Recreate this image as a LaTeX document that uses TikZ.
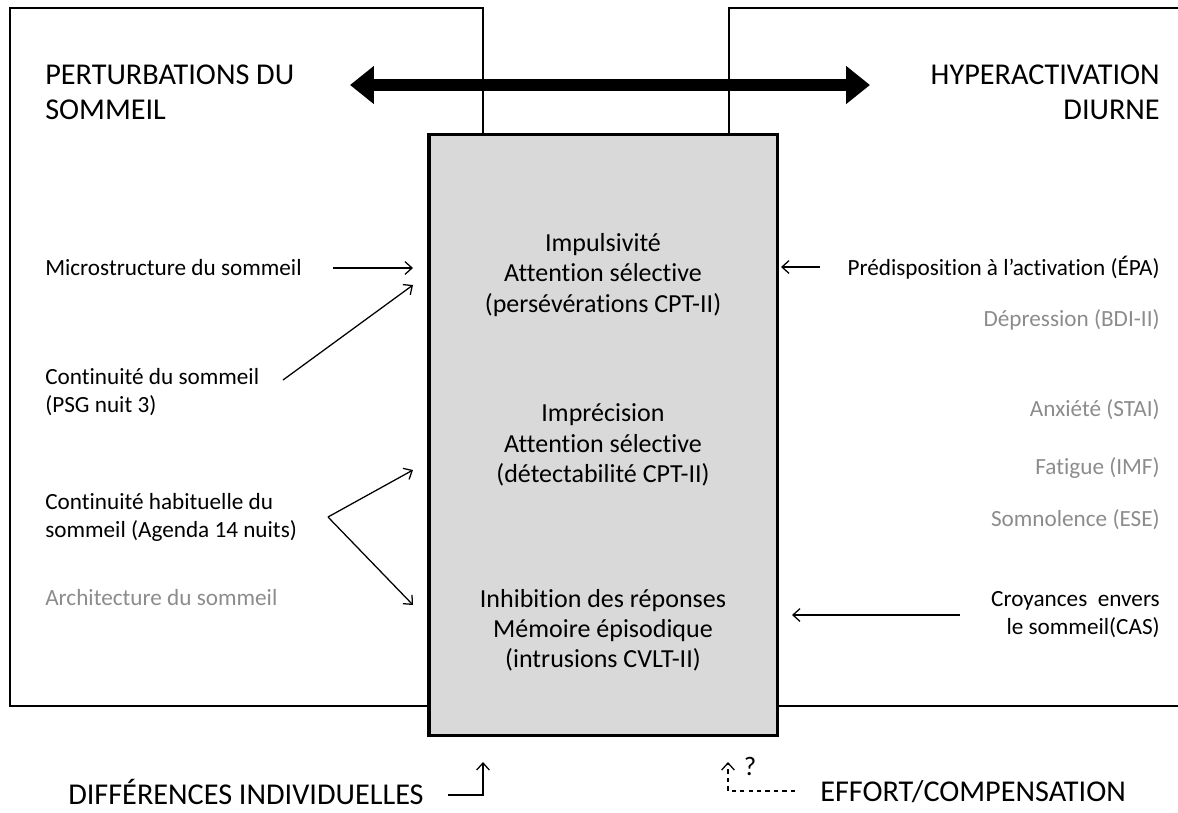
\documentclass[tikz,border=0pt]{standalone}
\usepackage{fontspec}
\setmainfont[Ligatures={NoCommon,NoContextual}]{Carlito}
\usetikzlibrary{arrows.meta}
\definecolor{boxgray}{RGB}{217,217,217}
\definecolor{txtgray}{RGB}{140,140,140}
\begin{document}
\begin{tikzpicture}[x=0.025cm,y=-0.025cm]
\tikzstyle{frame}=[line width=1.4pt]
\tikzstyle{core}=[draw, line width=2.2pt, fill=boxgray, inner sep=0pt]
\tikzstyle{head}=[font=\fontsize{21.5}{25}\selectfont, inner sep=0pt]
\tikzstyle{item}=[font=\fontsize{16.5}{20}\selectfont, inner sep=0pt]
\tikzstyle{faded}=[item, text=txtgray]
\tikzstyle{inner}=[font=\fontsize{18.5}{21.5}\selectfont, inner sep=0pt, align=center]
\tikzstyle{link}=[line width=0.9pt, -{Straight Barb[length=5pt,width=9pt]}]

\useasboundingbox (0,0) rectangle (1178,812);

% frames
\draw[frame] (10,8) rectangle (483,706);
\draw[frame] (1180,8) -- (729,8) -- (729,706) -- (1180,706);

\node[core, minimum width=8.7cm, minimum height=15cm] (center) at (603,435) {};

\node[head, anchor=west, align=left] (perturb) at (45,92) {PERTURBATIONS DU\\SOMMEIL};
\node[head, anchor=east, align=right] (hyper) at (1160,92) {HYPERACTIVATION\\DIURNE};

\coordinate (la) at (350,85);
\coordinate (ra) at (870,85);
\draw[line width=8.5pt, {Triangle[length=17pt,width=26pt]}-{Triangle[length=17pt,width=26pt]}] (la) -- (ra);

% inside the grey box
\node[inner] (impul) at (603,275) {Impulsivité\\Attention sélective\\(persévérations CPT-II)};
\node[inner] (impre) at (603,445) {Imprécision\\Attention sélective\\(détectabilité CPT-II)};
\node[inner] (inhib) at (603,630) {Inhibition des réponses\\Mémoire épisodique\\(intrusions CVLT-II)};

% left side
\node[item, anchor=west] (micro) at (45,268) {Microstructure du sommeil};
\node[item, anchor=west, align=left] (contin) at (45,392) {Continuité du sommeil\\(PSG nuit 3)};
\node[item, anchor=west, align=left] (habit) at (45,517) {Continuité habituelle du\\sommeil (Agenda 14 nuits)};
\node[faded, anchor=west] (archi) at (45,598) {Architecture du sommeil};

\coordinate (m1) at (333,268);
\coordinate (m2) at (413,268);
\coordinate (c1) at (283,380);
\coordinate (c2) at (413,285);
\coordinate (h0) at (328,517);
\coordinate (h1) at (413,470);
\coordinate (h2) at (413,605);

\draw[link] (m1) -- (m2);
\draw[link] (c1) -- (c2);
\draw[link] (h0) -- (h1);
\draw[link] (h0) -- (h2);

% right side
\node[item, anchor=east] (predisp) at (1160,268) {Prédisposition à l’activation (ÉPA)};
\node[faded, anchor=east] (depress) at (1160,320) {Dépression (BDI-II)};
\node[faded, anchor=east] (anx) at (1160,410) {Anxiété (STAI)};
\node[faded, anchor=east] (fatig) at (1160,468) {Fatigue (IMF)};
\node[faded, anchor=east] (somno) at (1160,520) {Somnolence (ESE)};
\node[item, anchor=east, align=right] (croy) at (1160,615) {Croyances\ \ envers\\le sommeil(CAS)};

\coordinate (p1) at (820,267);
\coordinate (p2) at (781,267);
\coordinate (k1) at (960,615);
\coordinate (k2) at (792,615);

\draw[link] (p1) -- (p2);
\draw[link] (k1) -- (k2);

% bottom
\node[head, anchor=west] (diff) at (68,792) {DIFFÉRENCES INDIVIDUELLES};
\node[head, anchor=west] (effort) at (820,792) {EFFORT/COMPENSATION};

\coordinate (d1) at (448,795);
\coordinate (d2) at (483,795);
\coordinate (d3) at (483,762);
\draw[link] (d1) -- (d2) -- (d3);

\coordinate (e1) at (795,791);
\coordinate (e2) at (728,791);
\coordinate (e3) at (728,762);
\draw[link, dashed] (e1) -- (e2) -- (e3);
\node[font=\fontsize{19}{22}\selectfont, inner sep=0pt] (quest) at (750,766) {?};

\end{tikzpicture}
\end{document}
